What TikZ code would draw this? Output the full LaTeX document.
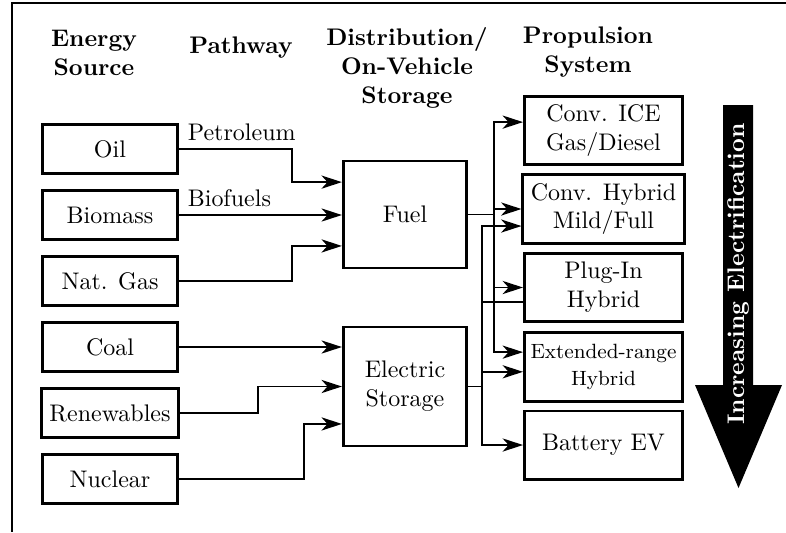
\documentclass[tikz,border=0pt]{standalone}
\usepackage{amsmath,amssymb,amsfonts}
\usepackage{xcolor}
\usepackage{tikz}
\usetikzlibrary{arrows.meta}

\begin{document}
\begin{tikzpicture}[
    x={(0.4167pt,0pt)}, y={(0pt,-0.4167pt)},
    src/.style={rectangle, draw, line width=1.1pt, minimum width=56.5pt, minimum height=20.5pt, align=center},
    store/.style={rectangle, draw, line width=1.1pt, minimum width=51.5pt, align=center},
    prop/.style={rectangle, draw, line width=1.1pt, minimum width=66pt, minimum height=28.5pt, align=center},
    head/.style={align=center, font=\bfseries},
    arrow/.style={-{Stealth[length=8.5pt, width=5.5pt, inset=2.5pt]}, line width=0.6pt},
    link/.style={line width=0.6pt}
]
\useasboundingbox (0,0) rectangle (786,532);
\draw[line width=1.1pt] (786,3) -- (12,3) -- (12,532);

% column headings
\node[head] (hsrc) at (94,53) {Energy\\Source};
\node[head] (hpath) at (241,48) {Pathway};
\node[head] (hdist) at (407,68) {Distribution/\\On-Vehicle\\Storage};
\node[head] (hprop) at (588,52) {Propulsion\\System};

% energy sources
\node[src] (oil) at (110,149) {Oil};
\node[src] (bio) at (110,215) {Biomass};
\node[src] (gas) at (110,281) {Nat. Gas};
\node[src] (coal) at (110,347) {Coal};
\node[src] (ren) at (110,413) {Renewables};
\node[src] (nuc) at (110,479) {Nuclear};

% storage
\node[store, minimum height=44.5pt] (fuel) at (405,214.5) {Fuel};
\node[store, minimum height=49.5pt] (elec) at (405,386.5) {Electric\\Storage};

% propulsion systems
\node[prop] (ice) at (603.5,130.5) {Conv. ICE\\Gas/Diesel};
\node[prop] (hyb) at (603.5,209) {Conv. Hybrid\\Mild/Full};
\node[prop] (plug) at (603.5,287.5) {Plug-In\\Hybrid};
\node[prop, inner xsep=1pt, font=\fontsize{8.6pt}{11pt}\selectfont] (erev) at (603.5,367) {Extended-range\\Hybrid};
\node[prop] (bev) at (603.5,445) {Battery EV};

% pathways into storage
\draw[arrow] (oil.east) -- node[pos=0, above right] (petro) {Petroleum} ++(113,0) |- ([yshift=13.5pt]fuel.west);
\draw[arrow] (bio.east) -- node[pos=0, above right] (biof) {Biofuels} (bio.east -| fuel.west);
\draw[arrow] (gas.east) -- ++(113,0) |- ([yshift=-13.1pt]fuel.west);
\draw[arrow] (coal.east) -- (coal.east -| elec.west);
\draw[arrow] (ren.east) -- ++(78,0) |- (elec.west);
\draw[arrow] (nuc.east) -- ++(125,0) |- ([yshift=-15.6pt]elec.west);

% fuel bus
\draw[link] (fuel.east) -- ++(26,0) coordinate (fbus);
\draw[arrow] (fbus) |- ([yshift=3.5pt]ice.west);
\draw[arrow] (fbus) |- (hyb.west);
\draw[arrow] (fbus) |- (plug.west);
\draw[arrow] (fbus) |- ([yshift=6.2pt]erev.west);

% electric bus
\draw[link] (elec.east) -- ++(14,0) coordinate (ebus);
\draw[arrow] (ebus) |- ([yshift=-7.1pt]hyb.west);
\draw[link] (ebus) |- ([yshift=-6pt]plug.west);
\draw[arrow] (ebus) |- ([yshift=-2pt]erev.west);
\draw[arrow] (ebus) |- (bev.west);

% electrification arrow
\fill (723,105) -- (753,105) -- (753,385) -- (782,385) -- (738.5,488) -- (695,385) -- (723,385) -- cycle;
\node[rotate=90, text=white, font=\bfseries] (elect) at (738,274) {Increasing Electrification};
\end{tikzpicture}
\end{document}
